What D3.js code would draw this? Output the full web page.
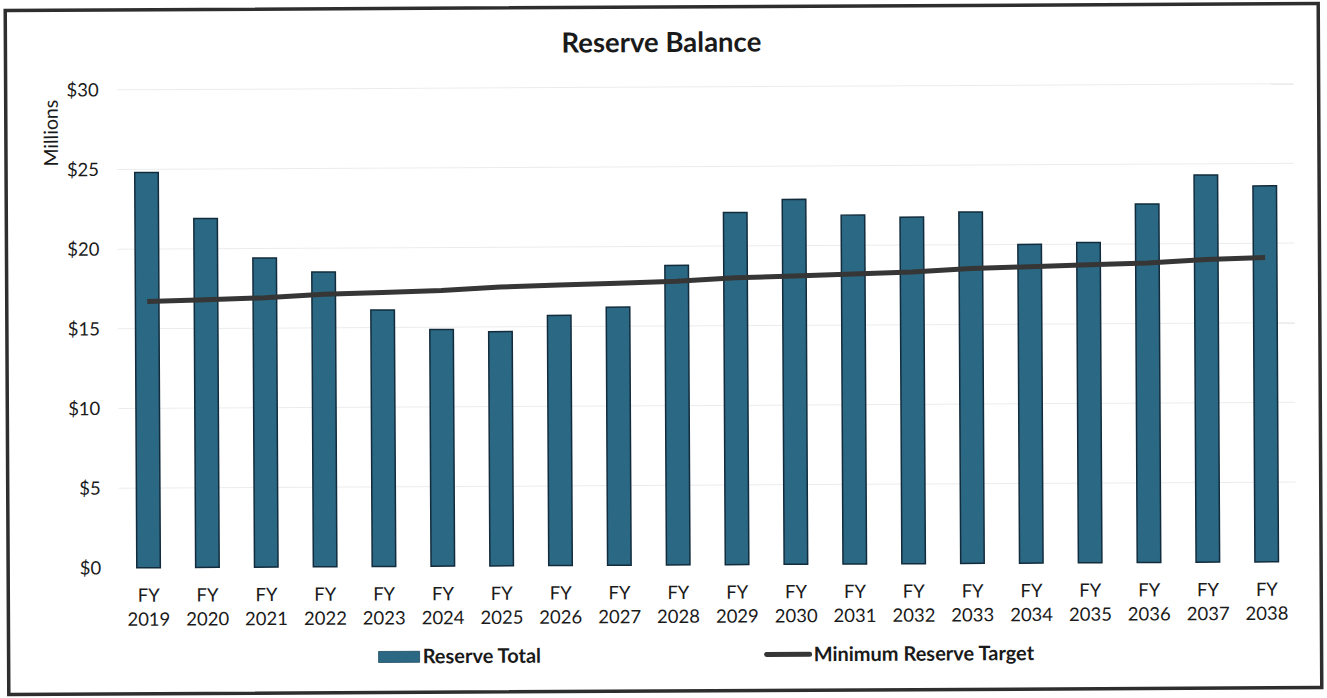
<!DOCTYPE html>
<html>
<head>
<meta charset="utf-8">
<script src="https://cdn.jsdelivr.net/npm/d3@7"></script>
<style>
  html, body { margin: 0; padding: 0; background: #fff; }
  svg { display: block; }
  text { font-family: Lato, "Open Sans", sans-serif; fill: #1a1a1a; }
</style>
</head>
<body>
<svg id="chart" width="1327" height="698"></svg>
<script>
// Fiscal years shown on the x axis
const years = ["2019","2020","2021","2022","2023","2024","2025","2026","2027","2028",
               "2029","2030","2031","2032","2033","2034","2035","2036","2037","2038"];
// Reserve total per fiscal year, $ millions
const reserveTotal = [24.8, 21.9, 19.4, 18.5, 16.1, 14.85, 14.7, 15.7, 16.2, 18.8,
                      22.1, 22.9, 21.9, 21.75, 22.05, 20.0, 20.1, 22.5, 24.3, 23.6];
// Minimum reserve target per fiscal year, $ millions
const minimumTarget = [16.7, 16.8, 16.9, 17.1, 17.2, 17.3, 17.5, 17.6, 17.7, 17.8,
                       18.0, 18.1, 18.2, 18.3, 18.5, 18.6, 18.7, 18.8, 19.0, 19.1];
// Y axis ticks ($ millions)
const yTicks = [0, 5, 10, 15, 20, 25, 30];
const seriesNames = ["Reserve Total", "Minimum Reserve Target"];

const svg = d3.select("#chart");
// the whole printed panel sits very slightly askew
const root = svg.append("g").attr("transform", "rotate(-0.3, 663, 349)");

// outer frame
root.append("rect")
  .attr("x", 7).attr("y", 7).attr("width", 1313).attr("height", 684)
  .attr("fill", "#fff").attr("stroke", "#2e2e2e").attr("stroke-width", 3.5);

const plot = { left: 118, right: 1295, top: 87, bottom: 565 };

const x = d3.scaleBand().domain(years)
  .range([plot.left, plot.right]).paddingInner(0.6).paddingOuter(0.3);
const y = d3.scaleLinear().domain([0, 30]).range([plot.bottom, plot.top]);

// gridlines
root.append("g").selectAll("line").data(yTicks.filter(d => d > 0)).join("line")
  .attr("x1", plot.left).attr("x2", plot.right)
  .attr("y1", d => y(d)).attr("y2", d => y(d))
  .attr("stroke", "#ececec").attr("stroke-width", 1);

// y axis labels
const yAxis = d3.axisLeft(y).tickValues(yTicks).tickSize(0).tickPadding(0)
  .tickFormat(d => "$" + d);
const yg = root.append("g").attr("transform", `translate(${100},0)`).call(yAxis);
yg.select(".domain").remove();
yg.selectAll("text").attr("font-size", 18.5).attr("fill", "#141414")
  .style("font-family", "Lato, sans-serif");

// y axis title
root.append("text")
  .attr("transform", "translate(59,130) rotate(-90)")
  .attr("text-anchor", "middle").attr("font-size", 19.5).text("Millions");

// chart title
root.append("text")
  .attr("x", 663).attr("y", 52).attr("text-anchor", "middle")
  .attr("font-size", 27.5).attr("font-weight", 700).text("Reserve Balance");

// bars
root.append("g").selectAll("rect").data(years).join("rect")
  .attr("x", d => x(d)).attr("width", x.bandwidth())
  .attr("y", (d, i) => y(reserveTotal[i]))
  .attr("height", (d, i) => y(0) - y(reserveTotal[i]))
  .attr("fill", "#2b6884").attr("stroke", "#122c3d").attr("stroke-width", 1.5);

// minimum reserve target line
const line = d3.line()
  .x((d, i) => x(years[i]) + x.bandwidth() / 2)
  .y(d => y(d));
root.append("path").datum(minimumTarget)
  .attr("d", line).attr("fill", "none")
  .attr("stroke", "#363636").attr("stroke-width", 5);

// x axis labels, two lines each
const xAxis = d3.axisBottom(x).tickSize(0).tickPadding(0).tickFormat("");
const xg = root.append("g").attr("transform", `translate(0,${plot.bottom})`).call(xAxis);
xg.select(".domain").remove();
xg.selectAll(".tick").each(function(d) {
  const t = d3.select(this).append("text")
    .attr("text-anchor", "middle").attr("font-size", 18.5).attr("fill", "#141414")
    .style("font-family", "Lato, sans-serif");
  t.append("tspan").attr("x", 0).attr("y", 34).text("FY");
  t.append("tspan").attr("x", 0).attr("y", 58).text(d);
});

// legend
const lg = root.append("g");
lg.append("rect").attr("x", 377).attr("y", 650).attr("width", 41).attr("height", 11)
  .attr("fill", "#2b6884").attr("stroke", "#1d4a60").attr("stroke-width", 0.8);
lg.append("text").attr("x", 421).attr("y", 662).attr("font-size", 20)
  .attr("font-weight", 700).text(seriesNames[0]);
lg.append("line").attr("x1", 765).attr("x2", 808).attr("y1", 655).attr("y2", 655)
  .attr("stroke", "#363636").attr("stroke-width", 5).attr("stroke-linecap", "round");
lg.append("text").attr("x", 812).attr("y", 662).attr("font-size", 20)
  .attr("font-weight", 700).text(seriesNames[1]);
</script>
</body>
</html>
